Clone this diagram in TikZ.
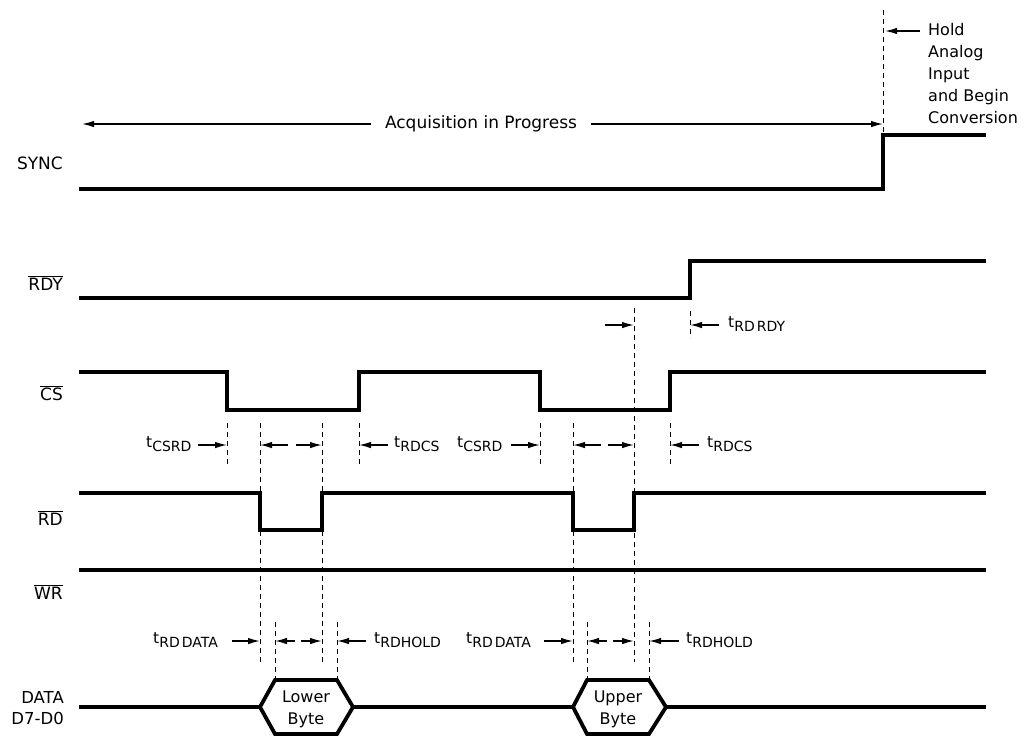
\documentclass[tikz,border=0pt]{standalone}
\usepackage{fontspec}
\setmainfont{DejaVu Sans}
\usetikzlibrary{arrows.meta}
\newcommand{\tsub}[1]{t\raisebox{-0.45ex}{\fontsize{14}{16}\selectfont #1}}
\newcommand{\ovl}[1]{$\overline{\mbox{#1}}$}
\begin{document}
\begin{tikzpicture}[x=1pt,y=-1pt,
  sig/.style={line width=3.8pt, line join=miter},
  guide/.style={line width=1pt, dash pattern=on 5pt off 4pt},
  tarr/.style={-{Latex[length=12pt,width=6.5pt]}, line width=1.4pt},
  lbl/.style={font=\fontsize{17}{20}\selectfont, inner sep=0pt},
  tlbl/.style={font=\fontsize{15.5}{18}\selectfont, inner sep=0pt, anchor=west}]
\useasboundingbox (0,0) rectangle (1024,737);

% signal labels
\node[lbl, anchor=east] (lsync) at (63,163) {SYNC};
\node[lbl, anchor=east] (lrdy) at (63,283) {\ovl{RDY}};
\node[lbl, anchor=east] (lcs) at (63,393) {\ovl{CS}};
\node[lbl, anchor=east] (lrd) at (63,518) {\ovl{RD}};
\node[lbl, anchor=east] (lwr) at (63,592) {\ovl{WR}};
\node[lbl, anchor=east, align=right, font=\fontsize{16.5}{21}\selectfont] (ldata) at (64,708) {DATA\\D7-D0};

% waveforms
\draw[sig] (79,189) -- (883,189) -- (883,135) -- (986,135);
\draw[sig] (79,298) -- (690,298) -- (690,261) -- (986,261);
\draw[sig] (79,372) -- (227,372) -- (227,410) -- (359,410) -- (359,372)
  -- (540,372) -- (540,410) -- (670,410) -- (670,372) -- (986,372);
\draw[sig] (79,493) -- (260,493) -- (260,530) -- (322,530) -- (322,493)
  -- (573,493) -- (573,530) -- (634,530) -- (634,493) -- (986,493);
\draw[sig] (79,570) -- (986,570);
\draw[sig] (79,707) -- (260,707);
\draw[sig] (353,707) -- (573,707);
\draw[sig] (666,707) -- (986,707);
\draw[sig] (260,707) -- (275,680) -- (337,680) -- (353,707) -- (337,734) -- (275,734) -- cycle;
\draw[sig] (573,707) -- (587,680) -- (649,680) -- (666,707) -- (649,734) -- (587,734) -- cycle;
\node[lbl, align=center, font=\fontsize{16}{22}\selectfont] (lower) at (306,709) {Lower\\Byte};
\node[lbl, align=center, font=\fontsize{16}{22}\selectfont] (upper) at (618,709) {Upper\\Byte};

% acquisition / hold
\draw[guide] (883,10) -- (883,133);
\node[lbl] (acq) at (481,124) {Acquisition in Progress};
\coordinate (acqL) at (82,124);
\coordinate (acqR) at (883,124);
\draw[tarr] (acq.west) ++(-14,0) -- (acqL);
\draw[tarr] (acq.east) ++(14,0) -- (acqR);
\node[lbl, anchor=north west, align=left, font=\fontsize{16}{22}\selectfont] (hold) at (928,23)
  {Hold\\Analog\\Input\\and Begin\\Conversion};
\coordinate (holdA) at (920,31);
\coordinate (holdB) at (885,31);
\draw[tarr] (holdA) -- (holdB);

% guides
\draw[guide] (634,308) -- (634,662);
\draw[guide] (690,311) -- (690,338);
\foreach \x in {227,359,540,670} \draw[guide] (\x,423) -- (\x,466);
\foreach \x in {260,322,573} \draw[guide] (\x,423) -- (\x,662);
\foreach \x in {275,337,587,649} \draw[guide] (\x,622) -- (\x,680);

% tRD RDY
\draw[tarr] (605,325) -- (634,325);
\draw[tarr] (719,325) -- (690,325);
\node[tlbl] (trdrdy) at (728,324) {\tsub{RD\hspace{0.15em}RDY}};

% CS/RD timing row
\node[tlbl] (tcsrd1) at (146,444) {\tsub{CSRD}};
\draw[tarr] (198,445) -- (227,445);
\draw[tarr] (288,445) -- (260,445);
\draw[tarr] (296,445) -- (322,445);
\draw[tarr] (388,445) -- (359,445);
\node[tlbl] (trdcs1) at (394,444) {\tsub{RDCS}};
\node[tlbl] (tcsrd2) at (457,444) {\tsub{CSRD}};
\draw[tarr] (511,445) -- (540,445);
\draw[tarr] (601,445) -- (573,445);
\draw[tarr] (608,445) -- (634,445);
\draw[tarr] (699,445) -- (670,445);
\node[tlbl] (trdcs2) at (707,444) {\tsub{RDCS}};

% data timing row
\node[tlbl] (trddata1) at (153,640) {\tsub{RD\hspace{0.15em}DATA}};
\draw[tarr] (232,641) -- (260,641);
\draw[tarr] (295,641) -- (275,641);
\draw[tarr] (301,641) -- (322,641);
\draw[tarr] (366,641) -- (337,641);
\node[tlbl] (trdhold1) at (374,640) {\tsub{RDHOLD}};
\node[tlbl] (trddata2) at (466,640) {\tsub{RD\hspace{0.15em}DATA}};
\draw[tarr] (544,641) -- (573,641);
\draw[tarr] (607,641) -- (587,641);
\draw[tarr] (613,641) -- (634,641);
\draw[tarr] (679,641) -- (649,641);
\node[tlbl] (trdhold2) at (686,640) {\tsub{RDHOLD}};
\end{tikzpicture}
\end{document}
